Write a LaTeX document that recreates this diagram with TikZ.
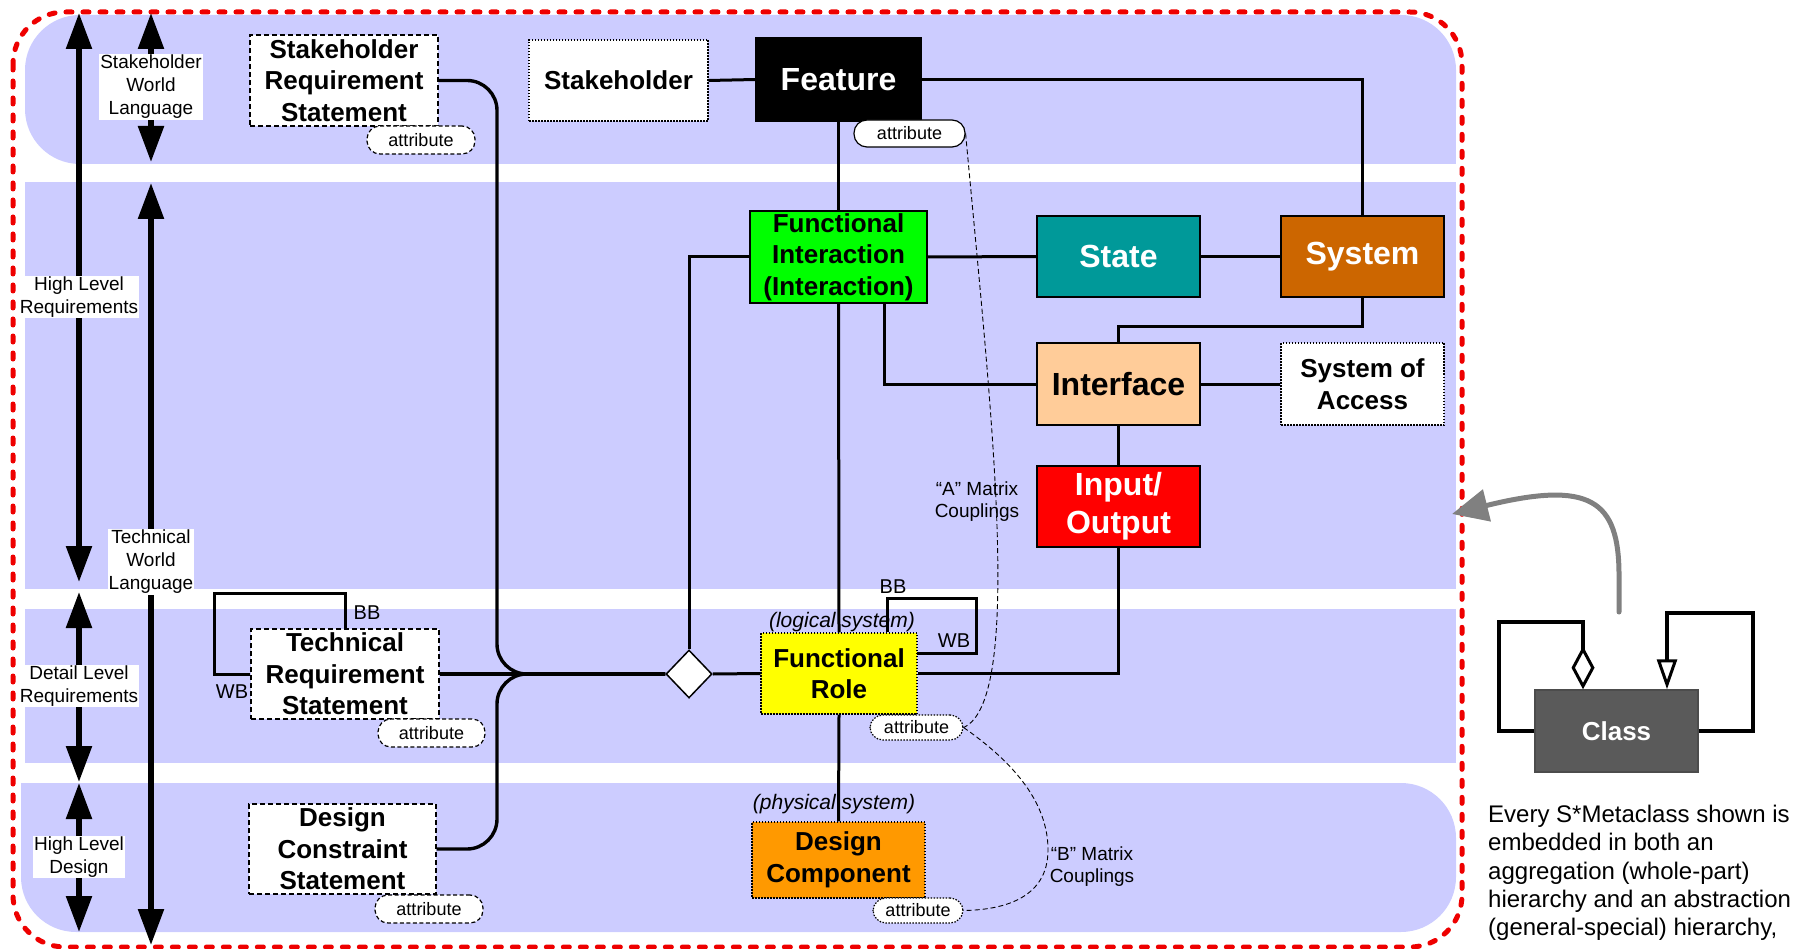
\documentclass[tikz,border=0pt]{standalone}
\usepackage{fontspec}
\setmainfont{Liberation Sans}
\usetikzlibrary{arrows.meta,shapes.geometric}

\definecolor{bandblue}{HTML}{CCCCFF}
\definecolor{cgreen}{HTML}{00FF00}
\definecolor{cteal}{HTML}{009999}
\definecolor{cbrown}{HTML}{CC6600}
\definecolor{cpeach}{HTML}{FFCC99}
\definecolor{cred}{HTML}{FF0000}
\definecolor{cyellow}{HTML}{FFFF00}
\definecolor{corange}{HTML}{FF9900}
\definecolor{cclass}{HTML}{5A5A5A}
\definecolor{cgrey}{HTML}{808080}
\definecolor{cborder}{HTML}{EE0000}

\newcommand{\fntBox}{\fontsize{26}{31.5}\selectfont\bfseries}
\newcommand{\fntBig}{\fontsize{32}{38}\selectfont\bfseries}
\newcommand{\fntLvl}{\fontsize{19}{23}\selectfont}
\newcommand{\fntAttr}{\fontsize{18}{20}\selectfont}
\newcommand{\fntTag}{\fontsize{20}{22}\selectfont}
\newcommand{\fntNote}{\fontsize{19}{22}\selectfont}
\newcommand{\fntSys}{\fontsize{21}{24}\selectfont\itshape}
\newcommand{\fntText}{\fontsize{24}{28.25}\selectfont}

\tikzset{
  mbox/.style={draw=black, line width=1.2pt, inner sep=0pt, align=center, font=\fntBox},
  reqbox/.style={mbox, fill=white, dash pattern=on 5pt off 3pt},
  dotbox/.style={mbox, dash pattern=on 1.5pt off 1.5pt},
  attr/.style={draw=black, line width=1.2pt, fill=white, rounded corners=13pt,
    inner sep=0pt, font=\fntAttr},
  conn/.style={line width=3pt, black},
  lvl/.style={line width=5.5pt,
    {Triangle[width=25pt,length=36pt]}-{Triangle[width=25pt,length=36pt]}},
  lvllabel/.style={fill=white, inner xsep=1pt, inner ysep=1pt, align=center, font=\fntLvl},
  coupling/.style={line width=0.9pt, dash pattern=on 5pt off 3pt},
  uml/.style={line width=3.5pt, black},
}

\begin{document}
\begin{tikzpicture}[x=1pt, y=-1pt]
\useasboundingbox (0,0) rectangle (1811,949);

% lavender swim lanes
\fill[bandblue, rounded corners=55pt] (25,15) rectangle (1456,164);
\fill[bandblue] (1300,100) rectangle (1456,164);
\fill[bandblue] (25,182) rectangle (1456,589);
\fill[bandblue] (25,609) rectangle (1456,763);
\fill[bandblue, rounded corners=55pt] (21,783) rectangle (1456,932);
\fill[bandblue] (21,783) rectangle (200,850);

% red dashed frame
\draw[cborder, line width=5pt, line cap=round, dash pattern=on 6pt off 11pt,
  rounded corners=52pt] (13,12) rectangle (1462,947);

% level arrows on the left
\coordinate (a1t) at (79,13);   \coordinate (a1b) at (79,582);
\coordinate (a2t) at (79,592);  \coordinate (a2b) at (79,782);
\coordinate (a3t) at (79,783);  \coordinate (a3b) at (79,932);
\coordinate (b1t) at (151,13);  \coordinate (b1b) at (151,162);
\coordinate (b2t) at (151,183); \coordinate (b2b) at (151,945);
\draw[lvl] (a1t) -- (a1b);
\draw[lvl] (a2t) -- (a2b);
\draw[lvl] (a3t) -- (a3b);
\draw[lvl] (b1t) -- (b1b);
\draw[lvl] (b2t) -- (b2b);
\node[lvllabel] (hlr) at (79,297) {High Level\\Requirements};
\node[lvllabel] (dlr) at (79,686) {Detail Level\\Requirements};
\node[lvllabel] (hld) at (79,857) {High Level\\Design};
\node[lvllabel] (swl) at (151,87) {Stakeholder\\World\\Language};
\node[lvllabel] (twl) at (151,562) {Technical\\World\\Language};

% metaclass boxes
\node[reqbox, minimum width=188pt, minimum height=91pt] (srs) at (344,80.5)
  {Stakeholder\\Requirement\\Statement};
\node[reqbox, minimum width=188pt, minimum height=90pt] (trs) at (345,674)
  {Technical\\Requirement\\Statement};
\node[reqbox, minimum width=187pt, minimum height=90pt] (dcs) at (342.5,849)
  {Design\\Constraint\\Statement};
\node[dotbox, fill=white, minimum width=179pt, minimum height=81pt] (stk) at (618.5,80.5)
  {Stakeholder};
\node[mbox, fill=black, text=white, font=\fntBig, minimum width=165pt, minimum height=83pt]
  (feat) at (838.5,79.5) {Feature};
\node[mbox, fill=cgreen, minimum width=177pt, minimum height=92pt] (fi) at (838.5,257)
  {Functional\\Interaction\\(Interaction)};
\node[mbox, fill=cteal, text=white, font=\fntBig, minimum width=163pt, minimum height=81pt]
  (state) at (1118.5,256.5) {State};
\node[mbox, fill=cbrown, text=white, font=\fntBig, minimum width=163pt, minimum height=81pt]
  (sys) at (1362.5,256.5) {System};
\node[mbox, fill=cpeach, font=\fntBig, minimum width=163pt, minimum height=82pt]
  (intf) at (1118.5,384) {Interface};
\node[dotbox, fill=white, minimum width=163pt, minimum height=82pt] (soa) at (1362.5,384)
  {System of\\Access};
\node[mbox, fill=cred, text=white, font=\fntBig, minimum width=163pt, minimum height=81pt]
  (io) at (1118.5,506.5) {Input/\\Output};
\node[dotbox, fill=cyellow, minimum width=156pt, minimum height=81pt] (fr) at (839,673.5)
  {Functional\\Role};
\node[dotbox, fill=corange, minimum width=173pt, minimum height=76pt] (dc) at (838.5,860)
  {Design\\Component};
\node[draw=black, line width=1.5pt, fill=white, diamond, inner sep=0pt,
  minimum width=46pt, minimum height=48pt] (dia) at (689,674) {};

% attribute tags
\node[attr, dash pattern=on 4pt off 2.5pt, minimum width=108pt, minimum height=28pt]
  (srsattr) at (421,140) {attribute};
\node[attr, minimum width=111pt, minimum height=27pt] (fattr) at (909.5,133.5) {attribute};
\node[attr, dash pattern=on 4pt off 2.5pt, minimum width=107pt, minimum height=28pt]
  (trsattr) at (431.5,733) {attribute};
\node[attr, dash pattern=on 4pt off 2.5pt, minimum width=108pt, minimum height=28pt]
  (dcsattr) at (429,909) {attribute};
\node[attr, dash pattern=on 1.5pt off 1.5pt, minimum width=93pt, minimum height=25pt]
  (frattr) at (916.5,727.5) {attribute};
\node[attr, dash pattern=on 1.5pt off 1.5pt, minimum width=90pt, minimum height=25pt]
  (dcattr) at (918,910.5) {attribute};

% captions
\node[font=\fntSys] (logsys) at (842,622) {(logical system)};
\node[font=\fntSys] (physys) at (834,804) {(physical system)};
\node[font=\fntNote, align=center] (amat) at (977,502) {“A” Matrix\\Couplings};
\node[font=\fntNote, align=center] (bmat) at (1092,867) {“B” Matrix\\Couplings};

% relationships
\draw[conn] (stk.east) -- (feat.west);
\draw[conn] (feat.east) -| (sys.north);
\draw[conn] (feat.south) -- (fi.north);
\draw[conn] (fi.east) -- (state.west);
\draw[conn] (state.east) -- (sys.west);
\draw[conn] (fi.west) -| (dia.north);
\draw[conn] ([xshift=46pt]fi.south) |- (intf.west);
\draw[conn] (sys.south) -- ++(0,29) -| (intf.north);
\draw[conn] (intf.east) -- (soa.west);
\draw[conn] (intf.south) -- (io.north);
\draw[conn] (io.south) |- (fr.east);
\draw[conn] (fi.south) -- (fr.north);
\draw[conn] (fr.south) -- (dc.north);
\draw[conn] (dia.east) -- (fr.west);
\draw[conn, line width=3.4pt] (trs.east) -- (dia.west);
\draw[conn, line width=3.4pt, rounded corners=30pt] (srs.east) -- (497,80.5) -- (497,674) -- (dia.west);
\draw[conn, line width=3.4pt, rounded corners=30pt] (dcs.east) -- (497,849) -- (497,674) -- (dia.west);

% black-box / white-box self loops
\coordinate (trsloopA) at (214,593);
\coordinate (frloopA) at (976,598);
\coordinate (frloopB) at (917,653);
\draw[conn] (trs.north) |- (trsloopA) |- (trs.west);
\draw[conn] ([xshift=48pt]fr.north) |- (frloopA) |- (frloopB);
\node[font=\fntTag] (bb1) at (367,613) {BB};
\node[font=\fntTag] (wb1) at (232,692) {WB};
\node[font=\fntTag] (bb2) at (893,587) {BB};
\node[font=\fntTag] (wb2) at (954,641) {WB};

% matrix couplings between attributes
\draw[coupling] (fattr.east) .. controls (990,400) and (1025,700) .. (frattr.east);
\draw[coupling] (frattr.east) .. controls (1010,760) and (1048,800) .. (1048,850)
  .. controls (1048,900) and (1000,910) .. (dcattr.east);

% class legend
\node[draw=black!70, line width=1.5pt, fill=cclass, text=white, font=\fntBox,
  minimum width=163pt, minimum height=82pt] (cls) at (1616.5,731) {Class};
\coordinate (aggA) at (1499,622);
\coordinate (genA) at (1753,613);
\draw[uml, -{Diamond[open, length=43pt, width=23pt, line width=3pt]}]
  (cls.west) -| (aggA) -| ([xshift=-33.5pt]cls.north);
\draw[uml, -{Triangle[open, length=30pt, width=20pt, line width=3pt]}]
  (cls.east) -| (genA) -| ([xshift=50.5pt]cls.north);

\coordinate (gstart) at (1619,612);
\coordinate (gbend) at (1619,575);
\coordinate (gend) at (1452,514);
\draw[cgrey, line width=5pt, line cap=round, -{Triangle[width=32pt, length=36pt]}]
  (gstart) -- (gbend) .. controls (1619,500) and (1590,480) .. (gend);

\node[font=\fntText, align=left, anchor=west, inner sep=0pt] (note) at (1488,873)
  {Every S*Metaclass shown is\\embedded in both an\\aggregation (whole-part)\\hierarchy and an abstraction\\(general-special) hierarchy,};
\end{tikzpicture}
\end{document}
